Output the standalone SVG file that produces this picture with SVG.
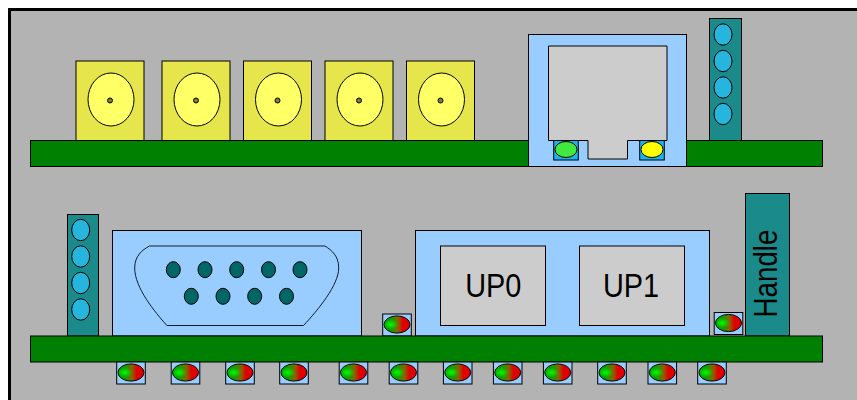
<svg xmlns="http://www.w3.org/2000/svg" xmlns:xlink="http://www.w3.org/1999/xlink" width="857" height="400" viewBox="0 0 857 400">
<style>
.s{stroke:#000;stroke-width:1}
.board{fill:#008000}
.bnc{fill:#e6e64c}
.bnci{fill:#ffff66}
.dot{fill:#808020}
.blue{fill:#99ccff}
.gray{fill:#cccccc}
.teal{fill:#1a8a8a}
.sfp{fill:#26b5dc}
.pin{fill:#006666}
.ledbox{fill:#99ccff}
.led{fill:url(#ledg)}
.glow{fill:url(#ledh)}
text{font-family:"Liberation Sans",Arial,sans-serif;fill:#000}
</style>
<defs>
<linearGradient id="ledg" x1="0" x2="1" y1="0" y2="0">
<stop offset="0" stop-color="#00a000"/>
<stop offset="0.3" stop-color="#10a000"/>
<stop offset="0.55" stop-color="#8c6000"/>
<stop offset="0.72" stop-color="#e00000"/>
<stop offset="1" stop-color="#e00000"/>
</linearGradient>
<radialGradient id="ledh" cx="0.25" cy="0.5" r="0.3">
<stop offset="0" stop-color="#00ff00" stop-opacity="1"/>
<stop offset="1" stop-color="#00ff00" stop-opacity="0"/>
</radialGradient>
<g id="led1"><rect class="ledbox s" x="-14.3" y="-11" width="28.6" height="22"/><ellipse class="led s" cx="0" cy="-0.5" rx="13" ry="8.6"/><ellipse class="glow" cx="0" cy="-0.5" rx="12.500" ry="8.100"/></g>
<g id="bnc"><rect class="bnc s" x="76" y="61" width="68" height="79.5"/><ellipse class="bnci s" cx="111" cy="99.5" rx="23" ry="26.5"/><circle class="dot s" cx="110" cy="100.5" r="2.5"/></g>
<g id="sfp"><ellipse class="sfp s" cx="0" cy="0" rx="9" ry="10.7"/><ellipse class="sfp s" cx="0" cy="26.5" rx="9" ry="10.7"/><ellipse class="sfp s" cx="0" cy="53" rx="9" ry="10.7"/><ellipse class="sfp s" cx="0" cy="79.5" rx="9" ry="10.7"/></g>
</defs>
<rect id="panel" x="9.5" y="9.5" width="860" height="410" fill="#b3b3b3" stroke="#000" stroke-width="3"/>
<g id="bnc0"><use xlink:href="#bnc"/></g>
<g id="bnc1"><use xlink:href="#bnc" x="86"/></g>
<g id="bnc2"><use xlink:href="#bnc" x="167.5"/></g>
<g id="bnc3"><use xlink:href="#bnc" x="249"/></g>
<g id="bnc4"><use xlink:href="#bnc" x="330.5"/></g>
<g id="top-teal"><rect class="teal s" x="709.5" y="18.5" width="32" height="122"/><use xlink:href="#sfp" x="723" y="34.5"/></g>
<rect id="top-board" class="board s" x="30.5" y="140.5" width="792" height="26"/>
<g id="rj45">
<rect class="blue s" x="528.5" y="34.5" width="158" height="132"/>
<path class="gray s" d="M548.5 46H667V140.5H627.5V159H588V140.5H548.5Z"/>
<rect x="553.7" y="140.5" width="24.6" height="19.5" fill="#1ab2ee" class="s"/>
<ellipse cx="566" cy="149.5" rx="11" ry="8" fill="#40e840" class="s"/>
<rect x="639.7" y="140.5" width="24.6" height="19.5" fill="#1ab2ee" class="s"/>
<ellipse cx="652" cy="149.5" rx="11" ry="8" fill="#ffff00" class="s"/>
</g>
<g id="bottom-teal"><rect class="teal s" x="67.5" y="214.5" width="31" height="121.5"/><use xlink:href="#sfp" x="80.7" y="230"/></g>
<g id="db9">
<rect class="blue s" x="112.5" y="230.5" width="249" height="105.5"/>
<path class="blue" stroke="#10202a" stroke-width="1" d="M149.5 246H325C332 250.500 338.700 256 338.700 268C338.700 285 318 310 303.500 325.500H166.800C155 312 134.700 288 134.700 268C134.700 256 142 250 149.500 246Z"/>
<g class="pin s">
<ellipse cx="173.300" cy="269.700" rx="7" ry="8"/><ellipse cx="205" cy="269.700" rx="7" ry="8"/><ellipse cx="236.700" cy="269.700" rx="7" ry="8"/><ellipse cx="268.500" cy="269.700" rx="7" ry="8"/><ellipse cx="300" cy="269.700" rx="7" ry="8"/>
<ellipse cx="191.300" cy="296.300" rx="7" ry="8"/><ellipse cx="223" cy="296.300" rx="7" ry="8"/><ellipse cx="254.700" cy="296.300" rx="7" ry="8"/><ellipse cx="286.500" cy="296.300" rx="7" ry="8"/>
</g>
</g>
<g id="usb">
<rect class="blue s" x="415.500" y="230.500" width="294" height="105.500"/>
<g id="up0"><rect class="gray s" x="440.500" y="246" width="105" height="79.500"/><text transform="translate(493.300 296.500) scale(0.85 1)" font-size="34" text-anchor="middle">UP0</text></g>
<g id="up1"><rect class="gray s" x="579.500" y="246" width="105" height="79.500"/><text transform="translate(631 296.500) scale(0.85 1)" font-size="34" text-anchor="middle">UP1</text></g>
</g>
<g id="handle"><rect class="teal s" x="745.500" y="193.500" width="44" height="142.500"/><text transform="translate(777 273.500) rotate(-90) scale(0.84 1)" font-size="33" text-anchor="middle">Handle</text></g>
<g id="led-up0"><use xlink:href="#led1" x="397" y="325"/></g>
<g id="led-up1"><use xlink:href="#led1" x="728.500" y="323.500"/></g>
<rect id="bottom-board" class="board s" x="30.500" y="336" width="792" height="26"/>
<g id="leds">
<use xlink:href="#led1" x="131" y="373"/>
<use xlink:href="#led1" x="185.500" y="373"/>
<use xlink:href="#led1" x="240" y="373"/>
<use xlink:href="#led1" x="294" y="373"/>
<use xlink:href="#led1" x="353.500" y="373"/>
<use xlink:href="#led1" x="403.500" y="373"/>
<use xlink:href="#led1" x="457.700" y="373"/>
<use xlink:href="#led1" x="507.700" y="373"/>
<use xlink:href="#led1" x="557.700" y="373"/>
<use xlink:href="#led1" x="612" y="373"/>
<use xlink:href="#led1" x="662.300" y="373"/>
<use xlink:href="#led1" x="712" y="373"/>
</g>
</svg>
